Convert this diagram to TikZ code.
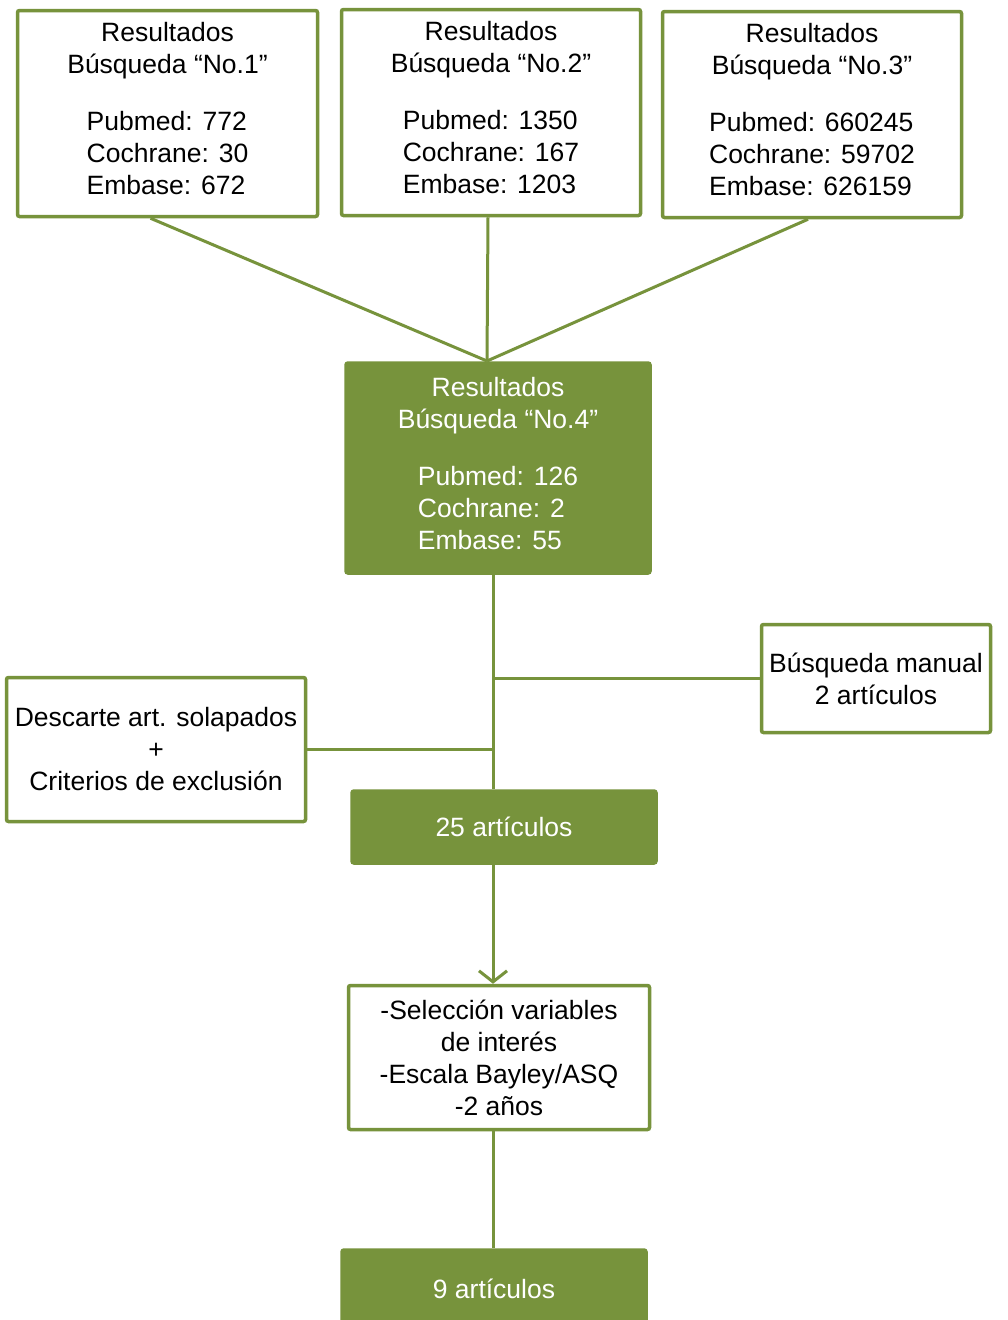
\documentclass[tikz,border=0pt]{standalone}
\usepackage{fontspec}
\setmainfont{Liberation Sans}
\usetikzlibrary{arrows.meta,positioning}
\definecolor{olive}{HTML}{77933C}

\begin{document}
\begin{tikzpicture}[x=1pt,y=-1pt,
	res/.style={draw=olive,line width=3.5pt,rounded corners=2pt,fill=white,
		align=center,inner sep=0pt,font=\fontsize{26.5}{32}\selectfont},
	grn/.style={res,fill=olive,text=white},
	lnk/.style={draw=olive,line width=3pt}]
	\useasboundingbox[fill=white] (0,0) rectangle (1007,1320);
	% the three first searches
	\node[res,minimum width=300,minimum height=206] (b1) at (167.5,113.5)
		{Resultados\\Búsqueda “No.1”\\[28pt]\begin{tabular}{@{}l@{}}Pubmed: 772\\Cochrane: 30\\Embase: 672\end{tabular}};
	\node[res,minimum width=299,minimum height=206] (b2) at (491,112.5)
		{Resultados\\Búsqueda “No.2”\\[28pt]\begin{tabular}{@{}l@{}}Pubmed: 1350\\Cochrane: 167\\Embase: 1203\end{tabular}};
	\node[res,minimum width=299,minimum height=206] (b3) at (812,114.5)
		{Resultados\\Búsqueda “No.3”\\[28pt]\begin{tabular}{@{}l@{}}Pubmed: 660245\\Cochrane: 59702\\Embase: 626159\end{tabular}};
	\node[grn,minimum width=304,minimum height=210] (b4) at (498,468)
		{Resultados\\Búsqueda “No.4”\\[28pt]\begin{tabular}{@{}l@{}}Pubmed: 126\\Cochrane: 2\\Embase: 55\end{tabular}};
	% side boxes
	\node[res,minimum width=229,minimum height=108] (man) at (876,678.5)
		{Búsqueda manual\\2 artículos};
	\node[res,minimum width=299,minimum height=144] (desc) at (156,749.5)
		{Descarte art. solapados\\+\\Criterios de exclusión};
	\node[grn,minimum width=304,minimum height=72] (n25) at (504,827) {25 artículos};
	\node[res,minimum width=301,minimum height=144] (sel) at (499,1057.5)
		{-Selección variables\\de interés\\-Escala Bayley/ASQ\\-2 años};
	\node[grn,minimum width=304,minimum height=78] (n9) at (494,1289) {9 artículos};
	\coordinate (tr) at (493,0);
	\coordinate (j) at (487,361);
	\draw[lnk] ([xshift=-17pt]b1.south)--(j);
	\draw[lnk] ([xshift=-3pt]b2.south)--(j);
	\draw[lnk] ([xshift=-4pt]b3.south)--(j);
	\draw[lnk] (b4.south -| tr)--(n25.north -| tr);
	\draw[lnk] (man.west)--(man.west -| tr);
	\draw[lnk] (desc.east)--(desc.east -| tr);
	\draw[lnk,-{Straight Barb[length=11pt,width=28pt]}] (n25.south -| tr)--(sel.north -| tr);
	\draw[lnk] (sel.south -| tr)--(n9.north -| tr);
\end{tikzpicture}
\end{document}
